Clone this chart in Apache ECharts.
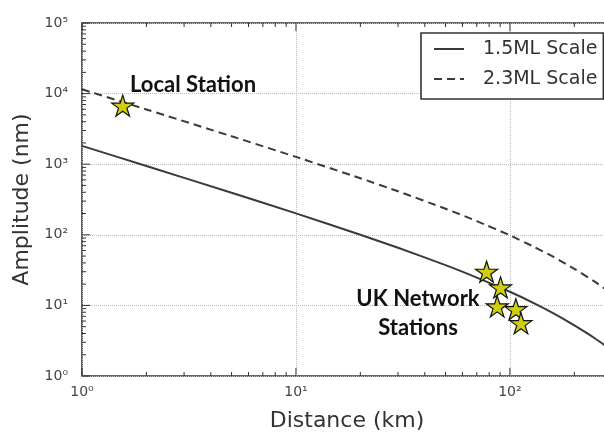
<!DOCTYPE html>
<html>
<head>
<meta charset="utf-8">
<script src="https://cdn.jsdelivr.net/npm/echarts@6/dist/echarts.min.js"></script>
<style>
  html, body { margin: 0; padding: 0; background: #fff; }
  #chart { width: 604px; height: 434px; }
</style>
</head>
<body>
<div id="chart"></div>
<script>
// ---- data ----
const distances = [1, 2, 5, 10, 20, 30, 50, 70, 100, 130, 160, 200, 250, 300];
const amp15ML = [1820, 944, 394, 201, 100, 65.5, 37.2, 24.8, 15.6, 10.7, 7.7, 5.2, 3.4, 2.3];
const amp23ML = [11500, 5960, 2490, 1270, 632, 413, 234, 156.5, 98.2, 67.3, 48.5, 33.0, 21.5, 14.6];
const localStation = [[1.55, 6750]];
const ukStations = [[77.8, 30], [90.4, 18], [87.2, 9.7], [106.6, 8.85], [112.6, 5.6]];
const seriesNames = ['1.5ML Scale', '2.3ML Scale'];
const supDigits = ['\u2070', '\u00B9', '\u00B2', '\u00B3', '\u2074', '\u2075'];
const tickLabels = supDigits.map(function (s) { return '10' + s; });
const xDecades = [1, 10, 100];
const yDecades = [1, 10, 100, 1000, 10000];
const minorMultipliers = [1, 2, 3, 4, 5, 6, 7, 8, 9];

const xTickValues = [];
xDecades.forEach(function (d) { minorMultipliers.forEach(function (m) { if (d * m <= 300) xTickValues.push([d * m, 1]); }); });
const yTickValues = [];
yDecades.forEach(function (d) { minorMultipliers.forEach(function (m) { yTickValues.push([1, d * m]); }); });
yTickValues.push([1, 100000]);

const starPath = 'path://M50,0 L61.2,34.5 L97.6,34.5 L68.2,55.9 L79.4,90.5 L50,69.1 L20.6,90.5 L31.8,55.9 L2.4,34.5 L38.8,34.5 Z';

function pair(xs, ys) { return xs.map(function (x, i) { return [x, ys[i]]; }); }
function isMajor(v) { const l = Math.log10(v); return Math.abs(l - Math.round(l)) < 1e-9; }
function labelFor(v) { return tickLabels[Math.round(Math.log10(v))] || ''; }

const chart = echarts.init(document.getElementById('chart'), null, { renderer: 'canvas' });
const tickStyle = { stroke: '#333', lineWidth: 1 };

chart.setOption({
  animation: false,
  backgroundColor: '#fff',
  grid: {
    left: 82, top: 23, right: -8, bottom: 58,
    show: true, borderColor: '#333', borderWidth: 1.6,
    containLabel: false, outerBoundsMode: 'none'
  },
  legend: {
    data: seriesNames,
    left: 421, top: 33,
    orient: 'vertical',
    padding: [5, 6, 9, 12],
    itemGap: 8,
    itemWidth: 30, itemHeight: 14,
    backgroundColor: '#fff',
    borderColor: '#333', borderWidth: 1.6, borderRadius: 0,
    itemStyle: { opacity: 0, borderWidth: 0 },
    textStyle: { fontFamily: 'DejaVu Sans', fontSize: 19, color: '#333', lineHeight: 22, padding: [0, 0, 0, 14] }
  },
  xAxis: {
    type: 'log', logBase: 10, min: 1, max: 300,
    name: 'Distance (km)', nameLocation: 'middle', nameGap: 34,
    nameTextStyle: { fontFamily: 'DejaVu Sans', fontSize: 22, color: '#333' },
    axisLine: { show: false },
    axisTick: { show: false },
    axisLabel: { fontFamily: 'DejaVu Sans', fontSize: 14, color: '#444', margin: 9, showMaxLabel: false, formatter: labelFor },
    splitLine: { show: true, lineStyle: { color: '#bbb', type: 'dotted', width: 1 } }
  },
  yAxis: {
    type: 'log', logBase: 10, min: 1, max: 100000,
    name: 'Amplitude (nm)', nameLocation: 'middle', nameGap: 44,
    nameTextStyle: { fontFamily: 'DejaVu Sans', fontSize: 22, color: '#333' },
    axisLine: { show: false },
    axisTick: { show: false },
    axisLabel: { fontFamily: 'DejaVu Sans', fontSize: 14, color: '#444', margin: 14, formatter: labelFor },
    splitLine: { show: true, lineStyle: { color: '#bbb', type: 'dotted', width: 1 } }
  },
  series: [
    {
      name: seriesNames[0], type: 'line', data: pair(distances, amp15ML),
      symbol: 'none', smooth: 0.2, z: 3,
      lineStyle: { color: '#3a3a3a', width: 2 }, itemStyle: { color: '#3a3a3a' }
    },
    {
      name: seriesNames[1], type: 'line', data: pair(distances, amp23ML),
      symbol: 'none', smooth: 0.2, z: 3,
      lineStyle: { color: '#3a3a3a', width: 2, type: [8, 5] }, itemStyle: { color: '#3a3a3a' }
    },
    {
      name: 'Local Station', type: 'scatter', data: localStation, z: 5,
      symbol: starPath, symbolSize: [22, 21],
      itemStyle: { color: '#cfcf10', borderColor: '#111', borderWidth: 1.2, opacity: 1 }
    },
    {
      name: 'UK Network Stations', type: 'scatter', data: ukStations, z: 5,
      symbol: starPath, symbolSize: [22, 21],
      itemStyle: { color: '#cfcf10', borderColor: '#111', borderWidth: 1.2, opacity: 1 }
    },
    {
      name: 'xticks', type: 'custom', data: xTickValues, z: 4, silent: true,
      renderItem: function (params, api) {
        const cs = params.coordSys;
        const v = api.value(0);
        const x = api.coord([v, 1])[0];
        const len = isMajor(v) ? 8 : 4;
        return { type: 'group', children: [
          { type: 'line', shape: { x1: x, y1: cs.y + cs.height, x2: x, y2: cs.y + cs.height - len }, style: tickStyle },
          { type: 'line', shape: { x1: x, y1: cs.y, x2: x, y2: cs.y + len }, style: tickStyle }
        ] };
      }
    },
    {
      name: 'yticks', type: 'custom', data: yTickValues, z: 4, silent: true,
      renderItem: function (params, api) {
        const cs = params.coordSys;
        const v = api.value(1);
        const y = api.coord([1, v])[1];
        const len = isMajor(v) ? 8 : 4;
        return { type: 'group', children: [
          { type: 'line', shape: { x1: cs.x, y1: y, x2: cs.x + len, y2: y }, style: tickStyle },
          { type: 'line', shape: { x1: cs.x + cs.width, y1: y, x2: cs.x + cs.width - len, y2: y }, style: tickStyle }
        ] };
      }
    }
  ],
  graphic: [
    {
      type: 'text', x: 130, y: 74, z: 10,
      style: { text: 'Local Station', fontFamily: 'Lato', fontWeight: 'bold', fontSize: 22, fill: '#111' }
    },
    {
      type: 'text', x: 418, y: 284, z: 10,
      style: { text: 'UK Network\nStations', fontFamily: 'Lato', fontWeight: 'bold', fontSize: 22, lineHeight: 29, align: 'center', fill: '#111' }
    }
  ]
});
</script>
</body>
</html>
